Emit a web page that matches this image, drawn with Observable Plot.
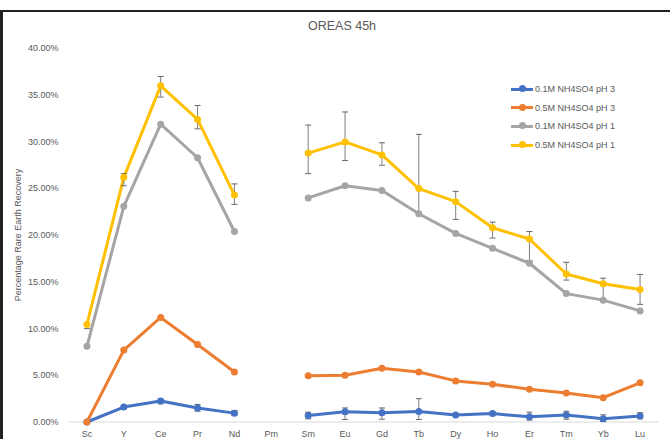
<!DOCTYPE html>
<html>
<head>
<meta charset="utf-8">
<script src="https://cdn.jsdelivr.net/npm/d3@7"></script>
<script src="https://cdn.jsdelivr.net/npm/@observablehq/plot@0.6"></script>
<style>
  html, body { margin: 0; padding: 0; background: #fff; }
  #wrap { position: relative; width: 670px; height: 439px; overflow: hidden; font-family: "Liberation Sans", Arial, sans-serif; }
  #chart svg { display: block; }
  #frame { position: absolute; left: 0; top: 10px; width: 700px; height: 460px; border-top: 2px solid #222; border-left: 3px solid #222; box-sizing: border-box; pointer-events: none; }
  #title { position: absolute; top: 19px; left: 342px; transform: translateX(-50%); white-space: nowrap; font-size: 12.5px; color: #595959; }
  #ylabel { position: absolute; left: 18px; top: 235px; transform: translate(-50%, -50%) rotate(-90deg); white-space: nowrap; font-size: 9px; color: #595959; }
  #legend { position: absolute; left: 511px; top: 80px; font-size: 9px; color: #595959; }
  .row { display: flex; align-items: center; height: 18.6px; }
  .sw { position: relative; width: 22px; height: 3px; margin-right: 2px; }
  .sw i { position: absolute; left: 7.5px; top: -2.5px; width: 7px; height: 7px; border-radius: 50%; }
</style>
</head>
<body>
<div id="wrap">
  <div id="chart"></div>
  <div id="frame"></div>
  <div id="title">OREAS 45h</div>
  <div id="ylabel">Percentage Rare Earth Recovery</div>
  <div id="legend"></div>
</div>
<script>
// ---- data (values in %) ----
const elements = ["Sc","Y","Ce","Pr","Nd","Pm","Sm","Eu","Gd","Tb","Dy","Ho","Er","Tm","Yb","Lu"];
const seriesNames = ["0.1M NH4SO4 pH 3","0.5M NH4SO4 pH 3","0.1M NH4SO4 pH 1","0.5M NH4SO4 pH 1"];
const seriesColors = ["#4472C4","#ED7D31","#A5A5A5","#FFC000"];

const blueVals   = [0.0, 1.6, 2.25, 1.5, 0.95, null, 0.7, 1.1, 1.0, 1.12, 0.75, 0.9, 0.55, 0.75, 0.35, 0.65];
const orangeVals = [0.0, 7.7, 11.2, 8.3, 5.35, null, 4.95, 5.0, 5.75, 5.35, 4.4, 4.05, 3.5, 3.1, 2.6, 4.2];
const grayVals   = [8.1, 23.1, 31.9, 28.3, 20.4, null, 24.0, 25.3, 24.8, 22.3, 20.2, 18.6, 17.0, 13.75, 13.05, 11.9];
const yellowVals = [10.45, 26.2, 36.0, 32.4, 24.3, null, 28.8, 30.0, 28.6, 25.0, 23.6, 20.8, 19.6, 15.85, 14.8, 14.2];

// error bar ends (low / high), null = no bar
const blueErrLo   = [null, 1.41, 1.95, 1.16, 0.7, null, 0.34, 0.27, 0.3, 0.27, 0.65, 0.75, 0.2, 0.3, 0.05, 0.34];
const blueErrHi   = [null, 1.77, 2.45, 1.88, 1.23, null, 1.05, 1.5, 1.5, 2.5, 0.85, 1.05, 1.05, 1.15, 0.77, 1.0];
const yellowErrLo = [10.0, 25.3, 34.8, 31.4, 23.3, null, 26.6, 28.0, 27.5, 22.4, 21.7, 19.7, 17.3, 15.2, 13.2, 12.6];
const yellowErrHi = [10.6, 26.6, 37.0, 33.9, 25.5, null, 31.8, 33.2, 29.9, 30.8, 24.7, 21.4, 20.4, 17.1, 15.4, 15.8];

const yTicks = [0, 5, 10, 15, 20, 25, 30, 35, 40];

// ---- build tables (x = element index, labelled via tickFormat) ----
const allVals = [blueVals, orangeVals, grayVals, yellowVals];
const points = [];
allVals.forEach((vals, s) => vals.forEach((v, i) => points.push({i, series: seriesNames[s], v: v == null ? NaN : v / 100})));
const errs = [];
[[blueErrLo, blueErrHi], [yellowErrLo, yellowErrHi]].forEach(([lo, hi]) => lo.forEach((l, i) => {
  if (l != null) errs.push({i, lo: l / 100, hi: hi[i] / 100});
}));

// horizontal cap symbol for error bars
const capSymbol = {draw(context) { context.moveTo(-3, 0); context.lineTo(3, 0); }};

const chart = Plot.plot({
  width: 670,
  height: 439,
  marginLeft: 68,
  marginRight: 12,
  marginTop: 48,
  marginBottom: 17.5,
  style: {fontFamily: "'Liberation Sans', Arial, sans-serif", fontSize: "9px", color: "#595959", background: "transparent"},
  x: {type: "linear", domain: [-0.5, elements.length - 0.5], ticks: d3.range(elements.length), tickFormat: i => elements[i], tickSize: 0, tickPadding: 9, label: null},
  y: {domain: [0, 0.4], ticks: yTicks.map(t => t / 100), tickFormat: d3.format(".2%"), tickSize: 0, tickPadding: 10, label: null},
  color: {domain: seriesNames, range: seriesColors},
  marks: [
    Plot.ruleY([0], {stroke: "#d9d9d9", strokeWidth: 1}),
    Plot.line(points, {x: "i", y: "v", z: "series", stroke: "series", strokeWidth: 3, strokeLinejoin: "round", strokeLinecap: "round"}),
    Plot.ruleX(errs, {x: "i", y1: "lo", y2: "hi", stroke: "#7f7f7f", strokeWidth: 1}),
    Plot.dot(errs, {x: "i", y: "lo", symbol: capSymbol, r: 3, stroke: "#6a6a6a", strokeWidth: 1, fill: "none"}),
    Plot.dot(errs, {x: "i", y: "hi", symbol: capSymbol, r: 3, stroke: "#6a6a6a", strokeWidth: 1, fill: "none"}),
    Plot.dot(points.filter(d => !isNaN(d.v)), {x: "i", y: "v", fill: "series", r: 3.5, stroke: null})
  ]
});
document.getElementById("chart").appendChild(chart);

// legend
const lg = document.getElementById("legend");
seriesNames.forEach((n, i) => {
  const row = document.createElement("div");
  row.className = "row";
  row.innerHTML = `<span class="sw" style="background:${seriesColors[i]}"><i style="background:${seriesColors[i]}"></i></span><span>${n}</span>`;
  lg.appendChild(row);
});
</script>
</body>
</html>
